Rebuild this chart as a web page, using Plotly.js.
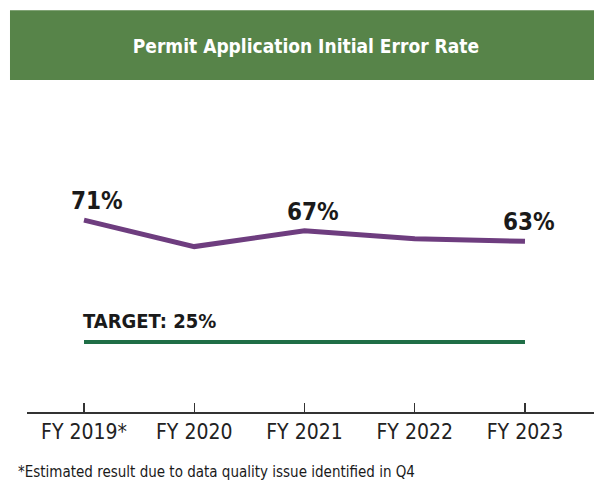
<!DOCTYPE html>
<html>
<head>
<meta charset="utf-8">
<script src="https://cdn.plot.ly/plotly-3.0.1.min.js"></script>
<style>html,body{margin:0;padding:0;background:#fff;}#chart{width:594px;height:480px;}</style>
</head>
<body>
<div id="chart"></div>
<script>
const years = ["FY 2019*", "FY 2020", "FY 2021", "FY 2022", "FY 2023"];
const errorRate = [71, 61, 67, 64, 63];
const targetRate = [25, 25, 25, 25, 25];
const labelYears = ["FY 2019*", "FY 2021", "FY 2023"];
const labelValues = [71, 67, 63];
const labelShifts = [13, 9, 4];
const targetLabel = "TARGET: 25%";
const chartTitle = "Permit Application Initial Error Rate";
const footnote = "*Estimated result due to data quality issue identified in Q4";

const narrow = "'DejaVu Sans Condensed', 'Liberation Sans Narrow', sans-serif";

const traces = [
  {x: years, y: targetRate, type: "scatter", mode: "lines",
   line: {color: "#1f6e46", width: 4}, hoverinfo: "skip", cliponaxis: false},
  {x: years, y: errorRate, type: "scatter", mode: "lines",
   line: {color: "#6e3d7f", width: 5}, hoverinfo: "skip", cliponaxis: false}
];

const annotations = labelYears.map((yr, i) => ({
  x: yr, y: labelValues[i], xref: "x", yref: "y",
  text: "<b>" + labelValues[i] + "%</b>", showarrow: false,
  xanchor: "center", yanchor: "bottom", xshift: labelShifts[i], yshift: 3,
  font: {family: narrow, size: 24, color: "#1a1a1a"}
}));
annotations.push({
  x: years[0], y: targetRate[0], xref: "x", yref: "y",
  text: "<b>" + targetLabel + "</b>", showarrow: false,
  xanchor: "left", yanchor: "bottom", xshift: -3, yshift: 7,
  font: {family: narrow, size: 20, color: "#1a1a1a"}
});
annotations.push({
  x: -0.0194, y: -0.158, xref: "paper", yref: "paper",
  text: footnote, showarrow: false, xanchor: "left", yanchor: "top",
  font: {family: narrow, size: 15, color: "#1a1a1a"}
});

const layout = {
  width: 594, height: 480,
  margin: {l: 27, r: 0, t: 100, b: 68, pad: 0},
  paper_bgcolor: "#ffffff", plot_bgcolor: "#ffffff",
  showlegend: false,
  title: {text: "<b>" + chartTitle + "</b>", x: 0.515, xanchor: "center",
          y: 0.904, yanchor: "middle", yref: "container",
          font: {family: narrow, size: 19, color: "#ffffff"}},
  xaxis: {type: "category", range: [-0.517, 4.626], showgrid: false, zeroline: false,
          showline: true, linecolor: "#333333", linewidth: 1.5,
          ticks: "inside", ticklen: 9, tickwidth: 1.3, tickcolor: "#333333",
          tickfont: {family: narrow, size: 21, color: "#222222"}, fixedrange: true},
  yaxis: {range: [-1.4, 116.3], visible: false, showgrid: false, zeroline: false, fixedrange: true},
  shapes: [{type: "rect", xref: "paper", yref: "paper", x0: -0.030, x1: 1.01, y0: 1.064, y1: 1.288,
            fillcolor: "#578449", line: {width: 0}, layer: "below"}],
  annotations: annotations
};

Plotly.newPlot("chart", traces, layout, {displayModeBar: false, staticPlot: true});
</script>
</body>
</html>
